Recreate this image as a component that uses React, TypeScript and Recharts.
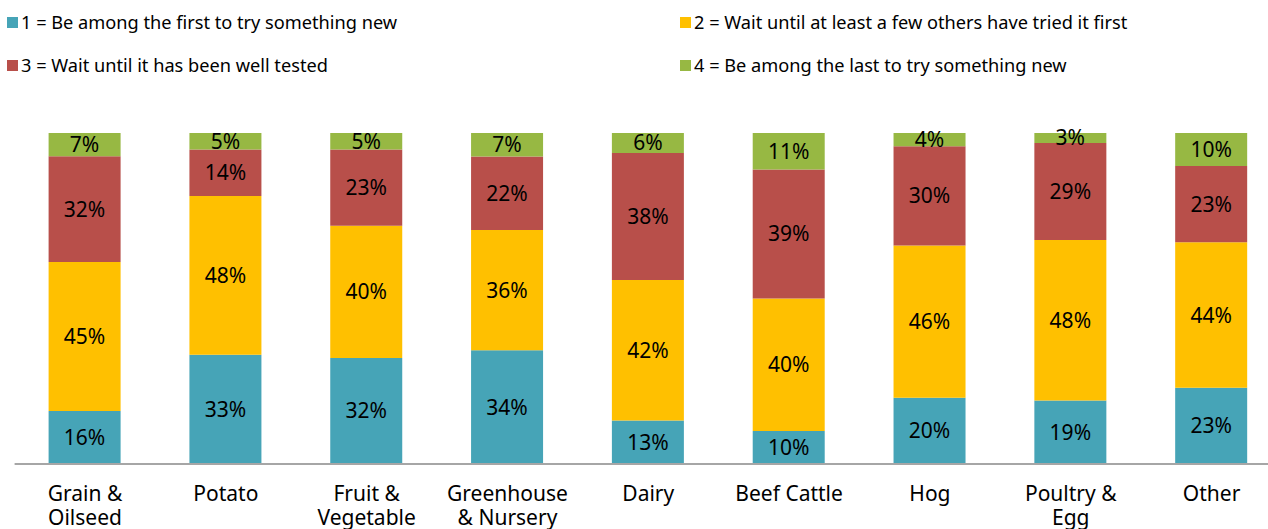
import { Bar, BarChart, LabelList, Legend, XAxis, YAxis } from "recharts";

const CATEGORIES = [
  "Grain &\nOilseed",
  "Potato",
  "Fruit &\nVegetable",
  "Greenhouse\n& Nursery",
  "Dairy",
  "Beef Cattle",
  "Hog",
  "Poultry &\nEgg",
  "Other",
];

const FIRST = [16, 33, 32, 34, 13, 10, 20, 19, 23];
const FEW_OTHERS = [45, 48, 40, 36, 42, 40, 46, 48, 44];
const WELL_TESTED = [32, 14, 23, 22, 38, 39, 30, 29, 23];
const LAST = [7, 5, 5, 7, 6, 11, 4, 3, 10];

const SERIES = [
  { key: "first", name: "1 = Be among the first to try something new", color: "#46A4B7" },
  { key: "few", name: "2 = Wait until at least a few others have tried it first", color: "#FFC000" },
  { key: "tested", name: "3 = Wait until it has been well tested", color: "#B84F4A" },
  { key: "last", name: "4 = Be among the last to try something new", color: "#97B843" },
];

const data = CATEGORIES.map((cat, i) => ({
  cat,
  first: FIRST[i],
  few: FEW_OTHERS[i],
  tested: WELL_TESTED[i],
  last: LAST[i],
}));

const FONT = "'Noto Sans', 'Open Sans', sans-serif";

function LegendGrid() {
  return (
    <div style={{ position: "relative", width: 1268, height: 90, fontFamily: FONT }}>
      {SERIES.map((s, i) => {
        const col = i % 2;
        const row = Math.floor(i / 2);
        return (
          <div
            key={s.key}
            style={{
              position: "absolute",
              left: col === 0 ? 7 : 680,
              top: row === 0 ? 8 : 51,
              display: "flex",
              alignItems: "center",
              whiteSpace: "nowrap",
              fontSize: 18.2,
              color: "#000",
              lineHeight: "28px",
            }}
          >
            <span
              style={{
                display: "inline-block",
                width: 11,
                height: 11,
                background: s.color,
                marginRight: 3,
              }}
            />
            {s.name}
          </div>
        );
      })}
    </div>
  );
}

function CategoryTick(props: any) {
  const { x, y, payload } = props;
  const lines = String(payload.value).split("\n");
  return (
    <text x={x} y={y} textAnchor="middle" fontFamily={FONT} fontSize={21} fill="#000">
      {lines.map((line, i) => (
        <tspan key={i} x={x} dy={i === 0 ? 37 : 24}>
          {line}
        </tspan>
      ))}
    </text>
  );
}

export default function App() {
  return (
    <div
      style={{
        position: "absolute",
        left: 0,
        top: 0,
        width: 1268,
        height: 529,
        overflow: "hidden",
        background: "#fff",
      }}
    >
      <BarChart
        width={1282}
        height={529}
        data={data}
        stackOffset="expand"
        margin={{ top: 43, right: 0, left: 14.6, bottom: 0 }}
      >
        <Legend
          verticalAlign="top"
          wrapperStyle={{ top: 0, left: 0 }}
          content={() => <LegendGrid />}
        />
        <XAxis
          dataKey="cat"
          height={65}
          tickLine={false}
          tickSize={0}
          tickMargin={0}
          interval={0}
          axisLine={{ stroke: "#A6A6A6", strokeWidth: 2 }}
          tick={<CategoryTick />}
        />
        <YAxis hide domain={[0, 1]} />
        {SERIES.map((s) => (
          <Bar
            key={s.key}
            dataKey={s.key}
            name={s.name}
            stackId="a"
            fill={s.color}
            barSize={72}
            isAnimationActive={false}
          >
            <LabelList
              dataKey={s.key}
              position="center"
              formatter={(v: any) => `${v}%`}
              style={{ fontFamily: FONT, fontSize: 21, fill: "#000" }}
            />
          </Bar>
        ))}
      </BarChart>
    </div>
  );
}
